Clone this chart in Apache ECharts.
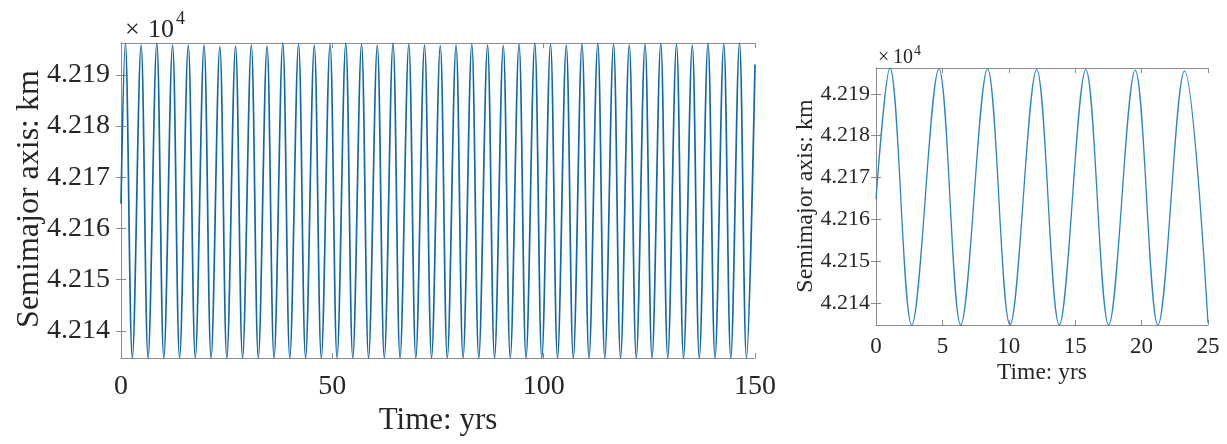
<!DOCTYPE html>
<html>
<head>
<meta charset="utf-8">
<script src="https://cdn.jsdelivr.net/npm/echarts@6/dist/echarts.min.js"></script>
<style>
  html, body { margin: 0; padding: 0; background: #fff; }
  #chart { width: 1227px; height: 444px; }
</style>
</head>
<body>
<div id="chart"></div>
<script>
// values in units of 1e4 km, time in years

// left panel: 0..150 yrs, peaks and troughs
const leftStart = [0, 4.21648];
const leftEnd = [150, 4.21920];
const leftPeakTimes = [1.02, 4.75, 8.47, 12.20, 15.92, 19.65, 23.38, 27.10, 30.83, 34.55,
  38.28, 42.01, 45.73, 49.46, 53.18, 56.91, 60.64, 64.36, 68.09, 71.81,
  75.54, 79.27, 82.99, 86.72, 90.44, 94.17, 97.90, 101.62, 105.35, 109.07,
  112.80, 116.53, 120.25, 123.98, 127.70, 131.43, 135.16, 138.88, 142.61, 146.33];
const leftPeakValues = [4.21962, 4.21958, 4.21962, 4.21958, 4.21958, 4.21958, 4.21955, 4.21956, 4.21958, 4.21956,
  4.21962, 4.21960, 4.21958, 4.21960, 4.21962, 4.21960, 4.21958, 4.21962, 4.21960, 4.21958,
  4.21957, 4.21958, 4.21960, 4.21958, 4.21957, 4.21960, 4.21962, 4.21960, 4.21958, 4.21960,
  4.21962, 4.21960, 4.21958, 4.21960, 4.21962, 4.21960, 4.21958, 4.21962, 4.21960, 4.21962];
const leftTroughTimes = [2.68, 6.41, 10.13, 13.86, 17.58, 21.31, 25.04, 28.76, 32.49, 36.21,
  39.94, 43.67, 47.39, 51.12, 54.84, 58.57, 62.30, 66.02, 69.75, 73.47,
  77.20, 80.93, 84.65, 88.38, 92.10, 95.83, 99.56, 103.28, 107.01, 110.73,
  114.46, 118.19, 121.91, 125.64, 129.36, 133.09, 136.82, 140.54, 144.27, 147.99];
const leftTroughValues = [4.21347, 4.21347, 4.21347, 4.21347, 4.21347, 4.21347, 4.21347, 4.21347, 4.21347, 4.21347,
  4.21347, 4.21347, 4.21347, 4.21347, 4.21347, 4.21347, 4.21347, 4.21347, 4.21347, 4.21347,
  4.21347, 4.21347, 4.21347, 4.21347, 4.21347, 4.21347, 4.21347, 4.21347, 4.21347, 4.21347,
  4.21347, 4.21347, 4.21347, 4.21347, 4.21347, 4.21347, 4.21347, 4.21347, 4.21347, 4.21347];

// right panel: first 25 yrs
const rightTimes = [0, 1.05, 2.69, 4.74, 6.38, 8.40, 10.09, 12.10, 13.80, 15.80, 17.52, 19.52, 21.23, 23.23, 25];
const rightValues = [4.21648, 4.21962, 4.21347, 4.21960, 4.21347, 4.21960, 4.21347, 4.21958, 4.21347,
  4.21958, 4.21347, 4.21957, 4.21347, 4.21955, 4.21352];

const yTicks = [4.214, 4.215, 4.216, 4.217, 4.218, 4.219];
const leftXTicks = [0, 50, 100, 150];
const rightXTicks = [0, 5, 10, 15, 20, 25];
const yMin = 4.21347, yMax = 4.21962;

const leftData = [leftStart];
leftPeakTimes.forEach((t, i) => {
  leftData.push([t, leftPeakValues[i]]);
  leftData.push([leftTroughTimes[i], leftTroughValues[i]]);
});
leftData.push(leftEnd);
const rightData = rightTimes.map((t, i) => [t, rightValues[i]]);

const FONT = 'Liberation Serif';
const axisGrey = '#8c8c8c';
const textCol = '#262626';

function xAxes(grid, max, ticks, fs, margin) {
  const base = {
    type: 'value', gridIndex: grid, min: 0, max: max, interval: ticks[1] - ticks[0],
    axisLine: { show: true, lineStyle: { color: axisGrey, width: 1 } },
    axisTick: { inside: true, length: 5, lineStyle: { color: axisGrey } },
    splitLine: { show: false }
  };
  return [
    Object.assign({}, base, {
      position: 'bottom',
      axisLabel: { fontFamily: FONT, fontSize: fs, color: textCol, margin: margin }
    }),
    Object.assign({}, base, { position: 'top', axisLabel: { show: false } })
  ];
}

function yAxes(grid, fs, margin) {
  const base = {
    type: 'value', gridIndex: grid, min: yMin, max: yMax,
    axisLine: { show: true, lineStyle: { color: axisGrey, width: 1 } },
    axisTick: { inside: true, length: 5, customValues: yTicks, lineStyle: { color: axisGrey } },
    splitLine: { show: false }
  };
  return [
    Object.assign({}, base, {
      position: 'left',
      axisLabel: {
        fontFamily: FONT, fontSize: fs, color: textCol, margin: margin,
        customValues: yTicks, formatter: v => v.toFixed(3)
      }
    }),
    Object.assign({}, base, { position: 'right', axisLabel: { show: false } })
  ];
}

const chart = echarts.init(document.getElementById('chart'), null, { renderer: 'canvas' });

function txt(x, y, s, fs, rot, align) {
  return {
    type: 'text', x: x, y: y, rotation: rot || 0,
    style: { text: s, font: fs + 'px "' + FONT + '"', fill: textCol, align: align || 'center', verticalAlign: 'middle' }
  };
}

chart.setOption({
  animation: false,
  grid: [
    { left: 121, top: 43, width: 634, height: 315 },
    { left: 876, top: 68, width: 332, height: 257 }
  ],
  xAxis: [].concat(xAxes(0, 150, leftXTicks, 28, 15), xAxes(1, 25, rightXTicks, 23, 10)),
  yAxis: [].concat(yAxes(0, 28, 11), yAxes(1, 22, 6)),
  series: [
    {
      type: 'line', xAxisIndex: 0, yAxisIndex: 0, data: leftData,
      showSymbol: false, smooth: 0.36,
      lineStyle: { color: '#1168a8', width: 1.7 }
    },
    {
      type: 'line', xAxisIndex: 2, yAxisIndex: 2, data: rightData,
      showSymbol: false, smooth: 0.36,
      lineStyle: { color: '#2b86c5', width: 1.3 }
    }
  ],
  graphic: [
    txt(438, 421, 'Time: yrs', 31),
    txt(30, 199, 'Semimajor axis: km', 32, Math.PI / 2),
    txt(125, 30, '\u00d7', 26, 0, 'left'),
    txt(148, 30, '10', 26, 0, 'left'),
    txt(176, 19, '4', 18, 0, 'left'),
    txt(1042, 373, 'Time: yrs', 23.5),
    txt(806, 196, 'Semimajor axis: km', 24, Math.PI / 2),
    txt(878, 58, '\u00d7', 20, 0, 'left'),
    txt(893, 58, '10', 20, 0, 'left'),
    txt(914, 51, '4', 14, 0, 'left')
  ]
});
</script>
</body>
</html>
